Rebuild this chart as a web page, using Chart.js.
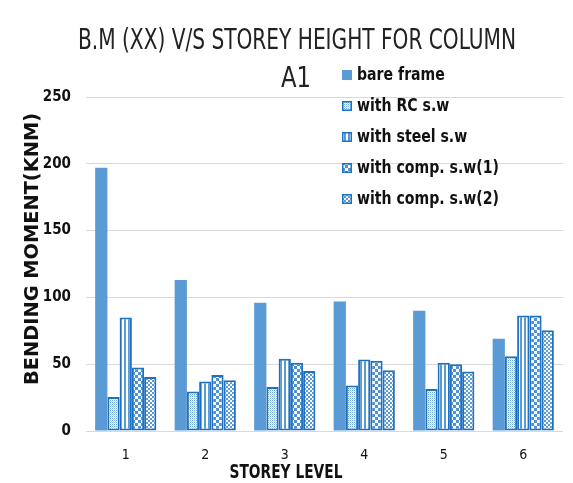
<!DOCTYPE html>
<html>
<head>
<meta charset="utf-8">
<script src="https://cdn.jsdelivr.net/npm/chart.js@4"></script>
<style>
  html, body { margin: 0; padding: 0; background: #fff; }
  #wrap { width: 573px; height: 483px; }
</style>
</head>
<body>
<div id="wrap"><canvas id="chart" width="573" height="483"></canvas></div>
<script>
const categories = ['1', '2', '3', '4', '5', '6'];
const bareFrame = [197, 113, 96, 97, 90, 69];
const withRC = [25.5, 29.5, 33, 34, 31.5, 56];
const withSteel = [85, 37, 54, 53.5, 51, 86.5];
const withComp1 = [47.5, 42, 51, 52.5, 50, 86.5];
const withComp2 = [40.5, 38, 45, 45.5, 44.5, 75.5];
const seriesNames = ['bare frame', 'with RC s.w', 'with steel s.w', 'with comp. s.w(1)', 'with comp. s.w(2)'];
const chartTitle = 'B.M (XX) V/S STOREY HEIGHT FOR COLUMN';
const chartSubtitle = 'A1';
const yTitle = 'BENDING MOMENT(KNM)';
const xTitle = 'STOREY LEVEL';

const BLUE = '#5b9bd5';
const EDGE = '#1f70c1';
const NARROW = "'Liberation Sans Narrow', 'DejaVu Sans Condensed', sans-serif";

const ctx = document.getElementById('chart').getContext('2d');

function makePattern(w, h, draw) {
  const c = document.createElement('canvas');
  c.width = w; c.height = h;
  const g = c.getContext('2d');
  g.fillStyle = '#fff';
  g.fillRect(0, 0, w, h);
  draw(g);
  return ctx.createPattern(c, 'repeat');
}

const dots = makePattern(2, 2, g => {
  g.fillStyle = '#6fa6dc';
  g.fillRect(0, 0, 1, 1);
  g.fillStyle = '#c2daf1';
  g.fillRect(1, 1, 1, 1);
});
const stripes = makePattern(4, 4, g => {
  g.fillStyle = BLUE;
  g.fillRect(0, 0, 2, 4);
});
const bigCheck = makePattern(6, 6, g => {
  g.fillStyle = '#4f93d4';
  g.fillRect(0, 0, 3, 3);
  g.fillRect(3, 3, 3, 3);
});
const smallCheck = makePattern(4, 4, g => {
  g.fillStyle = BLUE;
  g.fillRect(0, 0, 2, 2);
  g.fillRect(2, 2, 2, 2);
});

const fills = [BLUE, dots, stripes, bigCheck, smallCheck];
const values = [bareFrame, withRC, withSteel, withComp1, withComp2];

// draws text squeezed/stretched to a given width
function fitText(c, text, x, y, width, font, color, rot) {
  c.save();
  c.font = font;
  c.fillStyle = color;
  c.textBaseline = 'middle';
  c.textAlign = 'center';
  const w = c.measureText(text).width;
  c.translate(x, y);
  if (rot) c.rotate(rot);
  c.scale(width / w, 1);
  c.fillText(text, 0, 0);
  c.restore();
}

const textPlugin = {
  id: 'texts',
  afterDraw(chart) {
    const c = chart.ctx;
    fitText(c, chartTitle, 297, 42, 438, '28px ' + NARROW, '#222', 0);
    fitText(c, chartSubtitle, 296, 80, 30, '28px ' + NARROW, '#222', 0);
    fitText(c, yTitle, 33, 249, 272, 'bold 19px ' + NARROW, '#111', -Math.PI / 2);
    fitText(c, xTitle, 286, 473, 113, 'bold 20px ' + NARROW, '#111', 0);

    // legend
    c.save();
    c.font = 'bold 18px ' + NARROW;
    const ref = c.measureText(seriesNames[3]).width;
    const sx = 142 / ref;
    chart.data.datasets.forEach((ds, i) => {
      const y = 75 + i * 31;
      c.fillStyle = ds.backgroundColor;
      c.fillRect(342, y - 5, 10, 10);
      if (i > 0) {
        c.strokeStyle = EDGE;
        c.lineWidth = 1.5;
        c.strokeRect(342.75, y - 4.25, 8.5, 8.5);
      }
      c.save();
      c.translate(357, y);
      c.scale(sx, 1);
      c.fillStyle = '#111';
      c.textBaseline = 'middle';
      c.textAlign = 'left';
      c.fillText(ds.label, 0, 0);
      c.restore();
    });
    c.restore();
  }
};

new Chart(ctx, {
  type: 'bar',
  data: {
    labels: categories,
    datasets: seriesNames.map((name, i) => ({
      label: name,
      data: values[i],
      backgroundColor: fills[i],
      borderColor: i === 0 ? BLUE : EDGE,
      borderWidth: i === 0 ? 0 : 2,
      borderSkipped: i === 0 ? 'bottom' : false,
      categoryPercentage: 0.77,
      barPercentage: 1.0,
    })),
  },
  options: {
    responsive: false,
    animation: false,
    layout: { padding: { top: 97, right: 10, left: 0, bottom: 0 } },
    plugins: {
      legend: { display: false },
      title: { display: false },
      tooltip: { enabled: false },
    },
    scales: {
      x: {
        grid: { display: false, drawTicks: false },
        border: { display: false },
        ticks: { color: '#111', font: { size: 14, family: NARROW }, padding: 16 },
        afterFit: s => { s.height = 52; },
      },
      y: {
        min: 0,
        max: 250,
        ticks: { stepSize: 50, color: '#111', font: { size: 15, weight: 'bold', family: NARROW }, padding: 15 },
        grid: { color: '#d9d9d9', lineWidth: 1, drawTicks: false },
        border: { display: false },
        afterFit: s => { s.width = 86; },
      },
    },
  },
  plugins: [textPlugin],
});
</script>
</body>
</html>
